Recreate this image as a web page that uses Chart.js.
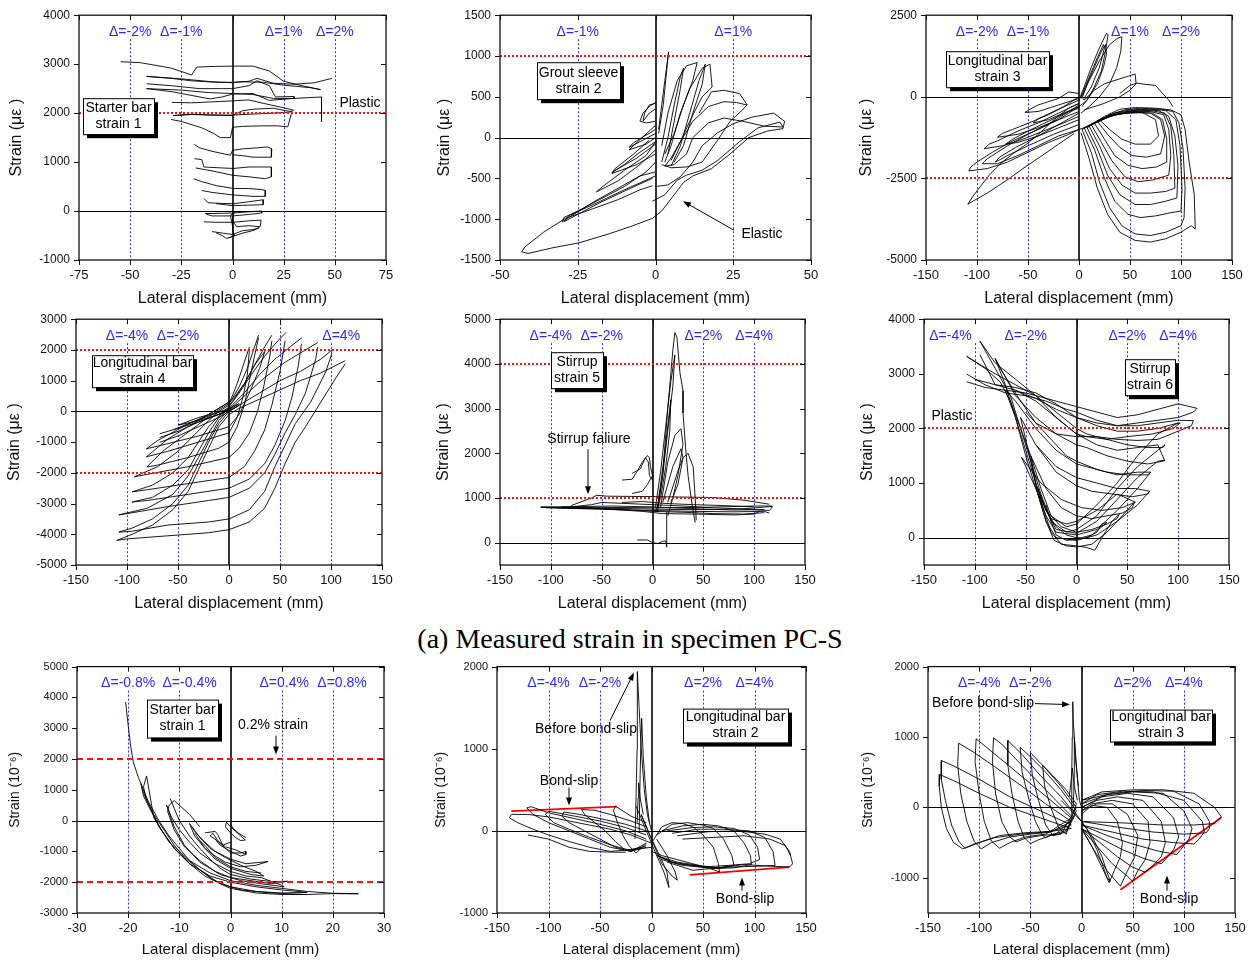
<!DOCTYPE html>
<html>
<head>
<meta charset="utf-8">
<title>Measured strain in specimen PC-S</title>
<script src="https://cdn.jsdelivr.net/npm/chart.js@4.4.1/dist/chart.umd.min.js"></script>
<style>
  html, body { margin: 0; padding: 0; background: #fff; }
  #figure { position: relative; width: 1252px; height: 963px; overflow: hidden; }
  .panel { position: absolute; }
  #caption {
    position: absolute; left: 0; width: 1260px; top: 625px; text-align: center;
    font-family: 'Liberation Serif', 'Times New Roman', serif; font-size: 28px; line-height: 28px; color: #000;
  }
</style>
</head>
<body>
<div id="figure">
  <div id="caption">(a) Measured strain in specimen PC-S</div>
</div>
<script>
// ---------- panel 1: starter bar strain 1 ----------
const starter1XTicks = [-75, -50, -25, 0, 25, 50, 75];
const starter1YTicks = [-1000, 0, 1000, 2000, 3000, 4000];
const starter1Drift = [-50, -25, 25, 50];
const starter1DriftLabels = ['Δ=-2%', 'Δ=-1%', 'Δ=1%', 'Δ=2%'];
const starter1Loops = [
  [[-54.6,3050],[-45,3030],[-30,2920],[-20,2780],[-17.5,2940],[-8,2955],[0,2960],[10,2960],[18,2860],[25,2650],[34,2560],[43,2480],[38,2520],[25,2570],[15,2630],[5,2640],[0,2620],[-10,2640],[-25,2700],[-42,2750]],
  [[-42,2750],[-30,2710],[-20,2660],[-8,2630],[0,2630],[8,2650],[12,2710],[20,2610],[30,2590],[40,2620],[48.6,2710]],
  [[-42,2600],[-30,2560],[-16,2500],[-5,2500],[0,2500],[8,2560],[12,2660],[18,2560],[21,2330],[30,2340],[30,2300],[20,2300],[10,2380],[0,2400],[-12,2420],[-25,2470],[-42,2500]],
  [[-42,2500],[-30,2440],[-11,2290],[-5,2330],[0,2390],[10,2400],[18,2260],[30,2300],[43.5,2330],[43.5,1820]],
  [[-29.7,2220],[-20,2210],[-10,2230],[0,2250],[8,2270],[15,2200],[25,2110],[29.8,2060],[28,2020],[20,2000],[10,1980],[0,1960],[-10,1960],[-20,1980],[-29,1950]],
  [[-30,1870],[-25,1830],[-15,1700],[-9,1580],[-6,1500],[-1,1500],[0,1710],[5,1730],[15,1740],[22,1740],[27,1720],[29,2030],[26,2050],[20,2100],[10,2080],[5,2050],[0,1950],[-8,1960],[-20,1970],[-29,1950]],
  [[-18.7,1360],[-16,1290],[-10,1220],[-1,1140],[0,1240],[5,1270],[12,1290],[17,1310],[19.2,1270],[19,1100],[10,1100],[5,1130],[0,1150]],
  [[-18.6,1070],[-15,1050],[-14,900],[-5,880],[0.5,870],[8,900],[15,900],[19,900],[19,700],[16,660],[8,700],[0,730],[-10,820],[-18,880]],
  [[-19,660],[-15,600],[-8,520],[0.5,460],[8,460],[14,440],[16,420],[16,300],[10,300],[0,330],[-10,380],[-15,420]],
  [[-13.9,255],[-12,170],[-5,155],[0.5,150],[8,190],[15,230],[15,130],[8,120],[0,110],[-8,150]],
  [[-13.4,-50],[-10,-50],[0,-40],[10,-10],[14.3,0],[14.3,-40],[8,-70],[0,-100],[-10,-100],[-13,-60]],
  [[-14,-220],[-8,-230],[0,-230],[8,-200],[14,-185],[13.5,-320],[8,-300],[2,-320],[0,-200]],
  [[-10,-420],[-5,-450],[0,-480],[5,-400],[10,-380],[13,-340],[10,-400],[5,-450],[0,-520],[-3,-560],[-5,-500],[-8,-450]],
  [[0,-300],[-1,-100],[1,0],[0,-150],[0,-400],[1,-500],[-2,-550]]
];

// ---------- panel 2: grout sleeve strain 2 ----------
const grout2XTicks = [-50, -25, 0, 25, 50];
const grout2YTicks = [-1500, -1000, -500, 0, 500, 1000, 1500];
const grout2Drift = [-25, 25];
const grout2DriftLabels = ['Δ=-1%', 'Δ=1%'];
const grout2Loops = [
  [[-1,-590],[-5,-640],[-12,-760],[-20,-870],[-29,-990],[-36,-1160],[-42,-1340],[-43,-1400],[-41,-1420],[-33,-1350],[-24.6,-1290],[-15,-1180],[-8,-1090],[-1,-990],[2,-900],[6,-700],[9,-550],[12,-470],[18,-380],[24,-200],[30,0],[36,80],[41,110],[41.5,200],[38,300],[31,250],[25,170],[20,60],[15,-100],[12,-300],[8,-480],[4,-580],[0,-600]],
  [[-1,-780],[3,-700],[7,-520],[10,-460],[15,-400],[20,-280],[27,-50],[33,120],[40,190],[41,130],[35,140],[28,200],[22,240],[17,180],[12,0],[10,-200],[6,-330],[3,-350]],
  [[3,-350],[5,-250],[8,-50],[12,200],[17,380],[22,440],[26,430],[29.4,400],[28,340],[24,200],[20,-30],[15,-300],[10,-360],[5,-370],[2,-330]],
  [[14,300],[18,560],[22,580],[27,540],[29.5,400]],
  [[3,-300],[5,-100],[8,300],[11,600],[15,850],[17.5,900],[18.2,620],[15,500],[11,200],[8,-50],[5,-280]],
  [[2,-100],[4,300],[7,700],[10,880],[13.4,920],[12,700],[9,400],[6,50],[3,-200]],
  [[1,100],[3,700],[4.2,1050],[3.8,900],[2.5,400],[1,50]],
  [[0,-420],[-5,-470],[-12,-620],[-20,-790],[-30,-1030],[-29.5,-980],[-25,-900],[-18,-760],[-10,-600],[-3,-420],[0,-300]],
  [[-1,-500],[-8,-620],[-18,-800],[-29.4,-1030],[-28,-960],[-20,-820],[-10,-640],[0,-470]],
  [[0,-150],[-5,-330],[-12,-530],[-19,-665],[-17,-600],[-10,-400],[-3,-220],[0,-50]],
  [[0,-200],[-6,-330],[-14,-440],[-13,-400],[-6,-250],[0,-80]],
  [[0,-50],[-5,-180],[-10,-330],[-14,-430],[-13,-380],[-7,-200],[-2,-30]],
  [[0,0],[-3,-80],[-8.5,-150],[-6,-60],[-2,80],[0,150]],
  [[0,50],[-4,-30],[-8.5,-120],[-7,-60],[-3,30],[0,100]],
  [[0,200],[-3,180],[-5,200],[-4,300],[-2,380],[0,430]],
  [[0,350],[-2,300],[-4,200],[-3.5,300],[-2,400],[0,420]],
  [[2,-300],[4,0],[6,400],[8,750],[9,850],[8,600],[6,200],[4,-200]],
  [[5,-350],[8,-100],[11,300],[14,700],[16,900],[15,650],[12,300],[9,-100],[6,-300]]
];

// ---------- panel 3: longitudinal bar strain 3 ----------
const long3XTicks = [-150, -100, -50, 0, 50, 100, 150];
const long3YTicks = [-5000, -2500, 0, 2500];
const long3Drift = [-100, -50, 50, 100];
const long3DriftLabels = ['Δ=-2%', 'Δ=-1%', 'Δ=1%', 'Δ=2%'];
const long3Loops = [
  [[-5,-1130],[-20,-1450],[-38,-1840],[-55,-2200],[-71,-2560],[-90,-2950],[-109,-3290],[-104,-3050],[-97,-2760],[-88,-2400],[-77,-2050],[-65,-1750],[-51,-1440],[-38,-1100],[-22,-630],[-10,-350],[0,-200]],
  [[0,-1000],[-10,-1150],[-30,-1400],[-50,-1700],[-70,-2000],[-90,-2200],[-108,-2270],[-106,-2150],[-100,-2000],[-85,-1700],[-65,-1350],[-40,-1000],[-20,-700],[0,-300]],
  [[0,-1000],[-20,-1200],[-40,-1500],[-60,-1800],[-80,-2050],[-95,-2050],[-90,-1900],[-85,-1800],[-70,-1500],[-50,-1150],[-25,-750],[0,-250]],
  [[0,-600],[-15,-800],[-35,-1050],[-55,-1300],[-75,-1500],[-93,-1590],[-88,-1450],[-80,-1350],[-60,-1050],[-40,-800],[-20,-500],[0,-200]],
  [[0,-450],[-20,-700],[-40,-950],[-60,-1150],[-80,-1240],[-75,-1120],[-65,-1000],[-45,-750],[-25,-450],[0,-100]],
  [[0,-50],[-20,-250],[-40,-450],[-53,-480],[-48,-380],[-40,-250],[-20,-50],[-10,150],[0,100]],
  [[0,-300],[-15,-500],[-30,-700],[-45,-800],[-40,-680],[-30,-550],[-15,-300],[0,0]],
  [[0,-700],[-20,-950],[-40,-1200],[-60,-1400],[-72,-1450],[-65,-1300],[-50,-1050],[-30,-750],[-10,-450],[0,-350]],
  [[0,-850],[-25,-1150],[-50,-1500],[-70,-1800],[-82,-2000],[-78,-1850],[-62,-1550],[-40,-1200],[-20,-850],[0,-500]],
  [[2,-1100],[10,-1900],[18,-2800],[28,-3600],[40,-4150],[55,-4400],[70,-4450],[85,-4350],[100,-4150],[110,-3950],[114,-4050],[113,-3000],[108,-2000],[104,-1000],[100,-550],[90,-400],[75,-350],[55,-330],[40,-380],[25,-600],[10,-900],[0,-1000]],
  [[3,-1000],[12,-1700],[20,-2600],[30,-3400],[42,-3950],[55,-4200],[70,-4250],[85,-4150],[100,-3950],[103,-3700],[104,-2800],[102,-1600],[98,-800],[92,-450],[80,-380],[60,-350],[45,-400],[30,-550],[15,-800],[3,-1000]],
  [[5,-950],[15,-1600],[25,-2500],[35,-3200],[48,-3600],[60,-3700],[75,-3650],[90,-3550],[100,-3500],[101,-2800],[99,-1500],[95,-700],[85,-420],[70,-380],[50,-400],[35,-500],[20,-700],[5,-950]],
  [[8,-950],[18,-1600],[28,-2400],[40,-3000],[55,-3300],[70,-3300],[85,-3200],[96,-3100],[97,-2100],[94,-1200],[88,-600],[78,-420],[60,-400],[40,-480],[20,-700],[8,-950]],
  [[10,-900],[20,-1500],[30,-2200],[42,-2700],[55,-2950],[70,-2950],[85,-2900],[94,-2800],[93,-1800],[90,-900],[84,-500],[70,-420],[50,-430],[30,-600],[10,-900]],
  [[12,-850],[22,-1400],[32,-1950],[45,-2450],[58,-2600],[72,-2550],[88,-2400],[90,-1800],[88,-1000],[83,-550],[70,-450],[50,-450],[30,-600],[12,-850]],
  [[15,-800],[25,-1300],[35,-1800],[48,-2100],[62,-2200],[76,-2150],[86,-2000],[86,-1300],[82,-700],[72,-500],[55,-470],[35,-550],[15,-800]],
  [[18,-750],[28,-1150],[40,-1550],[52,-1800],[66,-1850],[80,-1750],[84,-1200],[80,-700],[70,-500],[50,-480],[30,-580],[18,-750]],
  [[20,-700],[30,-1000],[42,-1300],[55,-1450],[70,-1450],[78,-1200],[75,-700],[62,-480],[40,-520],[20,-700]],
  [[0,-100],[5,300],[12,900],[20,1500],[27,1950],[28.5,1900],[26,1400],[22,800],[15,300],[8,-100],[0,-300]],
  [[2,-50],[10,500],[20,1100],[30,1600],[38,1800],[42,1840],[41,1400],[37,900],[30,400],[20,0],[10,-300],[2,-500]],
  [[3,-50],[8,400],[15,900],[22,1400],[26,1600],[27,1300],[24,900],[18,400],[10,0],[3,-300]],
  [[5,-100],[15,200],[25,400],[40,550],[50,650],[55,700],[56,400],[50,200],[40,0],[25,-200],[10,-350],[5,-400]],
  [[40,100],[50,350],[57,420],[65,380],[75,350],[82,100],[88,-100],[92,-300]],
  [[2,0],[10,600],[18,1200],[24,1600],[25,1500],[20,900],[12,300],[4,-100]]
];

// ---------- panel 4: longitudinal bar strain 4 ----------
const long4XTicks = [-150, -100, -50, 0, 50, 100, 150];
const long4YTicks = [-5000, -4000, -3000, -2000, -1000, 0, 1000, 2000, 3000];
const long4Drift = [-100, -50, 50, 100];
const long4DriftLabels = ['Δ=-4%', 'Δ=-2%', '', 'Δ=4%'];
const long4Loops = [
  [[114,1650],[105,1500],[90,1250],[70,1000],[50,700],[30,400],[10,100],[0,-100],[-10,-500],[-20,-1200],[-30,-1900],[-40,-2600],[-55,-3200],[-75,-3700],[-95,-4000],[-110,-4200],[-100,-4150],[-60,-4050],[-20,-3950],[0,-3850],[20,-3600],[35,-3150],[45,-2500],[55,-1700],[65,-1000],[75,-500],[90,300],[105,1100],[114,1550]],
  [[101,2000],[90,1700],[70,1300],[50,1000],[30,600],[10,200],[0,0],[-10,-400],[-20,-1000],[-30,-1700],[-40,-2400],[-55,-3000],[-75,-3500],[-95,-3800],[-108,-3930],[-95,-3900],[-60,-3700],[-20,-3600],[0,-3500],[20,-3200],[35,-2600],[45,-1800],[55,-1100],[65,-400],[80,300],[95,1300],[101,1900]],
  [[87,2240],[75,2000],[55,1600],[35,1100],[15,500],[0,50],[-10,-300],[-20,-900],[-30,-1500],[-40,-2100],[-55,-2700],[-80,-3150],[-108,-3370],[-95,-3300],[-60,-3100],[-20,-2900],[0,-2800],[20,-2500],[35,-2000],[45,-1400],[55,-700],[65,-100],[75,600],[85,1700],[87,2100]],
  [[71.5,2400],[60,2100],[45,1700],[30,1200],[15,600],[0,100],[-10,-200],[-20,-700],[-30,-1300],[-40,-1900],[-55,-2400],[-75,-2800],[-95,-2950],[-80,-2900],[-40,-2700],[0,-2500],[20,-2200],[35,-1700],[45,-1100],[55,-300],[62,500],[68,1500],[71,2200]],
  [[56,2570],[48,2300],[35,1800],[22,1200],[10,600],[0,150],[-10,-150],[-20,-500],[-30,-1000],[-40,-1500],[-55,-2000],[-75,-2400],[-95,-2620],[-80,-2550],[-40,-2350],[0,-2150],[15,-1800],[25,-1300],[35,-600],[42,200],[50,1300],[55,2300]],
  [[42,2480],[35,2100],[25,1500],[15,900],[5,400],[0,200],[-10,0],[-20,-300],[-35,-800],[-50,-1300],[-70,-1800],[-93,-2130],[-80,-2050],[-40,-1800],[0,-1500],[10,-1200],[20,-700],[28,0],[34,800],[40,1800],[42,2300]],
  [[29,2480],[24,2000],[18,1400],[10,800],[3,400],[0,250],[-10,50],[-25,-300],[-45,-800],[-65,-1300],[-80.6,-1810],[-70,-1750],[-40,-1500],[-10,-1200],[0,-1000],[8,-500],[15,200],[20,1000],[25,1800],[29,2400]],
  [[20,2100],[15,1600],[8,900],[2,400],[0,300],[-15,0],[-35,-400],[-60,-900],[-81,-1480],[-60,-1300],[-30,-1000],[0,-700],[8,-200],[14,500],[18,1200],[20,2000]],
  [[35,1950],[25,1500],[15,900],[5,450],[0,300],[-20,-100],[-45,-500],[-70,-950],[-81,-1220],[-60,-1050],[-30,-800],[0,-500],[10,-100],[20,600],[30,1400],[35,1950]],
  [[-68,-1005],[-50,-800],[-30,-500],[-10,-200],[0,0],[10,200],[5,100],[-10,-100],[-30,-350],[-50,-650],[-68,-850]],
  [[-68,-730],[-50,-550],[-30,-350],[-10,-100],[0,50],[10,250],[0,100],[-20,-150],[-40,-400],[-54,-590]],
  [[-50,-450],[-30,-300],[-10,-100],[0,50],[-10,-30],[-30,-200],[-50,-450]]
];

// ---------- panel 5: stirrup strain 5 ----------
const stirrup5XTicks = [-150, -100, -50, 0, 50, 100, 150];
const stirrup5YTicks = [0, 1000, 2000, 3000, 4000, 5000];
const stirrup5Drift = [-100, -50, 50, 100];
const stirrup5DriftLabels = ['Δ=-4%', 'Δ=-2%', 'Δ=2%', 'Δ=4%'];
const stirrup5Loops = [
  [[-110,790],[-80,780],[-50,770],[-20,760],[0,750],[30,740],[60,740],[90,760],[118,810]],
  [[-110,800],[-80,800],[-60,850],[-50,900],[-30,880],[0,850],[30,820],[60,780],[90,750],[115,720],[118,800]],
  [[-105,780],[-70,760],[-40,740],[0,720],[40,700],[80,690],[110,700],[115,660]],
  [[-80,830],[-60,1000],[-55,1060],[-45,1040],[0,1030],[30,1020],[60,1010],[90,950],[115,860]],
  [[-100,790],[-60,770],[-20,730],[0,700],[30,680],[60,650],[90,640],[110,670]],
  [[-95,780],[-50,760],[-10,700],[10,650],[40,640],[80,620],[100,640],[105,700]],
  [[-110,790],[-50,790],[0,780],[50,790],[100,820],[118,820]],
  [[-90,800],[-40,820],[0,800],[40,760],[80,730],[110,740]],
  [[-30,900],[-10,920],[10,880],[40,850],[70,830],[100,800]],
  [[5,700],[10,1500],[15,3000],[20,4300],[22,4700],[24,4600],[27,3800],[30,3400],[30,2900],[33,2000],[35,1500],[38,1000],[40,700],[42,450]],
  [[3,800],[8,1600],[13,2600],[18,3600],[22,4200],[20,3500],[15,2500],[10,1500],[5,800]],
  [[5,800],[12,2000],[17,3000],[18,3200],[17,2500],[13,1700],[8,1000],[3,700]],
  [[8,800],[15,1800],[22,2400],[28,2550],[30,2200],[25,1500],[20,1000],[15,600]],
  [[10,900],[20,1700],[28,2100],[30,1900],[25,1300],[18,900]],
  [[15,900],[25,1600],[30,1900],[35,2000],[40,1700],[42,1000],[43,500]],
  [[-30,1400],[-20,1420],[-15,1600],[-10,1800],[-5,1950],[-3,1900],[-2,1700],[0,1500],[-5,1300],[-10,1150],[-20,1100]],
  [[-20,1550],[-12,1650],[-7,1900],[-4,1800],[-3,1500],[0,1400]],
  [[-15,60],[-5,60],[0,0],[5,-20],[10,30],[13,40],[14,-100],[14,700]]
];

// ---------- panel 6: stirrup strain 6 ----------
const stirrup6XTicks = [-150, -100, -50, 0, 50, 100, 150];
const stirrup6YTicks = [0, 1000, 2000, 3000, 4000];
const stirrup6Drift = [-100, -50, 50, 100];
const stirrup6DriftLabels = ['Δ=-4%', 'Δ=-2%', 'Δ=2%', 'Δ=4%'];
const stirrup6Loops = [
  [[-30,600],[-25,300],[-20,50],[-10,-50],[0,-30],[10,0],[20,100],[25,250],[30,280],[25,200],[15,50],[5,0],[0,0],[-10,50],[-20,200],[-30,500]],
  [[-38,900],[-32,500],[-25,100],[-15,-120],[0,-150],[10,-180],[18,-230],[25,0],[35,300],[42,430],[40,350],[30,250],[15,150],[0,100],[-15,200],[-30,500],[-38,900]],
  [[-45,1500],[-38,800],[-30,300],[-22,-50],[-10,-150],[0,-170],[15,-120],[30,100],[45,400],[57,650],[55,550],[45,450],[30,400],[15,350],[0,400],[-15,550],[-30,900],[-45,1500]],
  [[-55,2200],[-45,1400],[-38,800],[-30,300],[-20,0],[0,-50],[20,50],[40,300],[60,600],[72,850],[70,800],[55,750],[35,800],[15,850],[0,950],[-20,1200],[-40,1700],[-55,2200]],
  [[-70,2700],[-60,2200],[-50,1500],[-40,900],[-30,400],[-20,100],[0,50],[20,150],[40,500],[60,900],[73,1200],[70,1150],[50,1150],[30,1200],[10,1300],[0,1350],[-20,1600],[-40,2000],[-60,2500],[-70,2700]],
  [[-80,3280],[-70,2800],[-60,2200],[-50,1600],[-40,1000],[-30,500],[-20,150],[0,80],[20,300],[40,700],[60,1100],[80,1400],[87,1420],[85,1400],[70,1350],[50,1400],[30,1500],[10,1650],[0,1700],[-20,1900],[-40,2200],[-60,2600],[-80,3280]],
  [[-95,3600],[-80,3100],[-65,2600],[-55,2000],[-45,1400],[-35,800],[-25,300],[-10,100],[0,150],[20,400],[40,900],[60,1300],[80,1600],[87,1700],[85,1650],[70,1650],[50,1700],[30,1800],[10,1850],[0,1900],[-20,2200],[-40,2600],[-60,2900],[-80,3200],[-95,3600]],
  [[-108,3318],[-90,3100],[-75,2850],[-65,2500],[-55,2000],[-45,1500],[-35,900],[-25,400],[-10,200],[0,250],[20,600],[40,1000],[60,1500],[80,1900],[100,2100],[102,2100],[95,2000],[75,1900],[50,1850],[30,1800],[10,1900],[0,2000],[-20,2300],[-40,2600],[-60,2800],[-80,3000],[-108,3318]],
  [[-108,2995],[-90,2800],[-70,2650],[-50,2600],[-30,2500],[-10,2350],[0,2300],[20,2150],[40,2050],[60,2050],[80,2100],[100,2150],[115,2143],[113,2050],[100,1950],[80,1800],[60,1780],[40,1800],[20,1850],[0,1850],[-20,1900],[-40,2100],[-55,2500],[-65,2800],[-75,3100],[-80,3280]],
  [[-108,2855],[-90,2750],[-70,2700],[-50,2650],[-30,2550],[-10,2450],[0,2400],[20,2300],[40,2200],[60,2250],[80,2350],[100,2450],[118.6,2368],[115,2300],[100,2200],[80,2150],[60,2100],[40,2050],[20,2100],[0,2200],[-20,2450],[-40,2650],[-60,2750],[-80,2800],[-95,3350]],
  [[-54,1470],[-45,1100],[-35,700],[-25,350],[-10,250],[0,300],[20,500],[40,800],[58,650],[45,550],[25,500],[5,550],[-15,700],[-35,1000],[-54,1470]],
  [[-100,2900],[-80,2800],[-60,2700],[-40,2550],[-20,2350],[0,2200],[20,2050],[40,1950],[60,1950],[80,2000],[100,2100]],
  [[-60,2700],[-40,2500],[-20,2200],[0,1900],[20,1700],[40,1600],[60,1650],[80,1700],[87,1400]],
  [[-50,2300],[-30,1900],[-10,1500],[0,1400],[20,1250],[40,1150],[60,1200],[73,1200]],
  [[-40,1700],[-20,1300],[0,1100],[20,1000],[40,900],[58,900],[72,850]]
];

// ---------- panel 7: starter bar strain 1 (second specimen) ----------
const starterB1XTicks = [-30, -20, -10, 0, 10, 20, 30];
const starterB1YTicks = [-3000, -2000, -1000, 0, 1000, 2000, 3000, 4000, 5000];
const starterB1Drift = [-20, -10, 10, 20];
const starterB1DriftLabels = ['Δ=-0.8%', 'Δ=-0.4%', 'Δ=0.4%', 'Δ=0.8%'];
const starterB1Loops = [
  [[-20.5,3850],[-20,3100],[-19.5,2400],[-19,1900],[-18,1400],[-17,1000],[-16,600],[-14,0],[-12,-500],[-10,-900],[-8,-1300],[-6,-1600],[-4,-1850],[-2,-2050],[0,-2200],[5,-2350],[10,-2400],[15,-2400],[20,-2370],[25,-2380]],
  [[25,-2370],[20,-2360],[15,-2300],[10,-2200],[5,-2100],[0,-1950],[-4,-1700],[-8,-1300],[-12,-700],[-15,100],[-16.4,1450],[-17,1100],[-16.5,700],[-15,200],[-13,-300],[-11,-800],[-9,-1200],[-6,-1600],[-3,-1950],[0,-2150],[5,-2300],[10,-2350],[15,-2330]],
  [[15,-2330],[10,-2250],[5,-2150],[0,-2000],[-4,-1800],[-8,-1400],[-11,-900],[-14,-200],[-17,900],[-17.5,1200],[-17,800],[-15.5,300],[-13.5,-300],[-11,-900],[-8,-1400],[-5,-1800],[-2,-2050],[2,-2250],[8,-2350],[15,-2400]],
  [[-11.8,720],[-11,400],[-10,0],[-8,-500],[-6,-900],[-4,-1250],[-2,-1550],[0,-1750],[4,-1900],[8,-1980],[11.2,-1970],[8,-2050],[4,-1950],[0,-1850],[-3,-1650],[-6,-1300],[-9,-850],[-11,-300],[-12.3,300],[-12,500],[-11,650],[-8,200],[-6,-200]],
  [[-12.5,500],[-11.5,100],[-10,-300],[-8,-700],[-6,-1050],[-3,-1400],[0,-1650],[3,-1800],[6,-1850],[10,-2100],[10.5,-2150],[6,-2050],[2,-1950],[-2,-1750],[-6,-1350],[-9,-800],[-11,-200],[-12.5,500]],
  [[-8,-86],[-7,-350],[-5,-700],[-3,-1000],[0,-1250],[3,-1400],[7.3,-1330],[5,-1450],[2,-1500],[-1,-1350],[-3,-1150],[-5,-900],[-7,-500],[-8,-100]],
  [[-7.5,-200],[-6,-550],[-4,-900],[-1,-1200],[2,-1450],[5,-1650],[6.5,-1800],[4,-1750],[0,-1550],[-3,-1250],[-5,-900],[-7,-400]],
  [[-3.4,-410],[-2.5,-650],[-1,-850],[1,-950],[3,-1100],[2,-1150],[0,-1000],[-2,-800],[-3,-600],[-4,-500],[-3.4,-410]],
  [[-0.8,-50],[0,-200],[1,-350],[2,-500],[2.9,-630],[2,-650],[1,-550],[0,-400],[-1,-200],[-0.8,-50]],
  [[0,-100],[0.5,-250],[1.5,-400],[2.5,-500],[3,-550]],
  [[-3,-600],[-1,-900],[0,-1050],[2,-1050],[3,-1000],[3,-1100]],
  [[-5,-400],[-3,-350],[-2.5,-450],[-1.5,-800],[0,-700]],
  [[6,-1700],[3,-1650],[0,-1500],[-3,-1200],[-5,-800],[-6,-650]]
];

// ---------- panel 8: longitudinal bar strain 2 (second specimen) ----------
const long2XTicks = [-150, -100, -50, 0, 50, 100, 150];
const long2YTicks = [-1000, 0, 1000, 2000];
const long2Drift = [-100, -50, 50, 100];
const long2DriftLabels = ['Δ=-4%', 'Δ=-2%', 'Δ=2%', 'Δ=4%'];
const long2BondSlip = [
  [[-136,240],[-34,295]],
  [[37,-535],[134,-442]]
];
const long2Loops = [
  [[0,-150],[-20,-50],[-40,20],[-60,70],[-80,120],[-100,170],[-120,200],[-136,200],[-138,160],[-130,100],[-115,20],[-100,-50],[-80,-130],[-60,-200],[-40,-250],[-20,-230],[0,-200]],
  [[-5,-100],[-25,0],[-50,80],[-75,150],[-100,220],[-117,295],[-121,280],[-115,200],[-100,100],[-80,0],[-60,-100],[-40,-200],[-20,-250],[-5,-200]],
  [[-5,-50],[-25,40],[-50,120],[-75,180],[-100,240],[-103,200],[-95,100],[-80,20],[-60,-80],[-40,-170],[-20,-240],[-5,-180]],
  [[-5,0],[-25,80],[-50,150],[-70,200],[-85,230],[-87,180],[-80,100],[-65,0],[-50,-100],[-35,-200],[-20,-250],[-5,-150]],
  [[-5,50],[-20,120],[-40,200],[-55,250],[-68,260],[-65,200],[-55,100],[-45,0],[-35,-130],[-25,-240],[-10,-200]],
  [[-5,100],[-20,180],[-35,300],[-37,250],[-33,100],[-28,-50],[-22,-180],[-15,-270],[-5,-150]],
  [[-120,-50],[-100,-100],[-80,-200],[-60,-250],[-35,-260],[-25,-260]],
  [[-16,-100],[-15,400],[-14,1000],[-14,1500],[-13.5,1940],[-12,1500],[-10,1000],[-7,500],[-4,200],[0,0]],
  [[-12,0],[-11,700],[-10,1200],[-9.6,1370],[-8,900],[-5,400],[-2,100]],
  [[-14,100],[-13,400],[-12.5,586],[-11,400],[-8,200]],
  [[-15,300],[-5,0],[5,-300],[12,-500],[17,-690],[15,-500],[8,-300],[0,-100],[-10,200]],
  [[-10,200],[0,-100],[10,-400],[20,-550],[25,-600],[23,-500],[15,-300],[5,-100]],
  [[0,-150],[10,50],[20,100],[30,90],[40,50],[50,-50],[60,-200],[65,-400],[66,-500],[55,-450],[40,-400],[25,-350],[10,-300],[0,-250]],
  [[5,-50],[20,80],[35,100],[50,70],[60,30],[70,-100],[78,-300],[80,-420],[65,-450],[45,-420],[25,-380],[5,-300]],
  [[10,0],[30,60],[50,80],[65,60],[80,0],[90,-150],[96,-300],[97,-410],[80,-450],[60,-460],[40,-420],[20,-380],[5,-300]],
  [[15,0],[40,40],[60,50],[80,30],[95,-50],[103,-200],[105,-350],[95,-400],[75,-420],[50,-440],[25,-400],[10,-330]],
  [[20,-30],[45,20],[70,20],[95,0],[110,-80],[118,-250],[120,-420],[105,-430],[80,-440],[55,-450],[30,-420],[10,-350]],
  [[25,-60],[55,-10],[85,0],[110,-40],[125,-100],[134,-250],[137,-400],[134,-440],[115,-430],[90,-410],[65,-450],[40,-480],[15,-380]],
  [[30,-100],[60,-80],[90,-60],[115,-100],[130,-180],[135,-300]]
];

// ---------- panel 9: longitudinal bar strain 3 (second specimen) ----------
const long3bXTicks = [-150, -100, -50, 0, 50, 100, 150];
const long3bYTicks = [-1000, 0, 1000, 2000];
const long3bDrift = [-100, -50, 50, 100];
const long3bDriftLabels = ['Δ=-4%', 'Δ=-2%', 'Δ=2%', 'Δ=4%'];
const long3bBondSlip = [
  [[38,-1170],[136,-150]]
];
const long3bLoops = [
  [[-10,-300],[-40,-150],[-70,0],[-100,200],[-125,380],[-138.6,467],[-139,300],[-137,0],[-132,-300],[-125,-500],[-116,-590],[-105,-520],[-85,-430],[-60,-380],[-35,-350],[-10,-300]],
  [[-10,-250],[-40,-50],[-70,150],[-100,400],[-125,590],[-137,666],[-137,400],[-133,100],[-127,-250],[-120,-480],[-114,-580],[-100,-500],[-80,-400],[-55,-360],[-30,-340],[-10,-250]],
  [[-10,-200],[-35,50],[-60,320],[-85,580],[-105,780],[-120,912],[-121,600],[-118,200],[-112,-200],[-105,-480],[-98,-590],[-88,-500],[-70,-420],[-50,-380],[-30,-350],[-10,-200]],
  [[-10,-150],[-30,100],[-55,400],[-80,700],[-95,880],[-103,974],[-104,650],[-100,200],[-95,-200],[-88,-480],[-80,-580],[-70,-500],[-55,-420],[-35,-380],[-10,-150]],
  [[-8,-150],[-25,100],[-45,400],[-65,700],[-78,900],[-86,988],[-87,650],[-84,200],[-78,-200],[-70,-420],[-64,-490],[-55,-440],[-40,-400],[-25,-380],[-8,-150]],
  [[-6,-100],[-20,150],[-40,450],[-58,750],[-72,950],[-72,600],[-68,200],[-62,-200],[-56,-430],[-50,-515],[-42,-460],[-30,-400],[-15,-350],[-6,-100]],
  [[-5,-50],[-20,250],[-35,500],[-50,720],[-60,855],[-58,500],[-52,150],[-45,-200],[-38,-400],[-35,-430],[-28,-380],[-15,-330],[-5,-50]],
  [[-5,0],[-20,300],[-35,550],[-50,780],[-48,450],[-42,100],[-35,-250],[-28,-400],[-20,-380],[-5,0]],
  [[-5,50],[-15,250],[-28,450],[-38,600],[-36,300],[-30,0],[-22,-300],[-15,-380],[-5,50]],
  [[-10,-100],[-9.5,500],[-9,1000],[-8.5,1500],[-8,1200],[-6,800],[-4,400],[-2,100],[0,0]],
  [[-8,0],[-7,500],[-7,1000],[-6,700],[-3,300]],
  [[-12,150],[-10,400],[-9,560],[-7,300],[-4,100]],
  [[-20,100],[0,-200],[10,-400],[20,-700],[28,-1050],[25,-1000],[15,-600],[5,-300],[-10,0]],
  [[0,-300],[10,-550],[20,-850],[27,-1070],[32,-900],[38,-700],[40,-500],[35,-200],[25,0],[10,30],[0,-100]],
  [[0,-300],[12,-600],[25,-900],[38,-1120],[45,-900],[52,-700],[55,-400],[45,-100],[30,50],[15,50],[0,-50]],
  [[0,-300],[15,-550],[30,-800],[45,-980],[50,-1050],[55,-900],[62,-750],[67,-500],[65,-200],[50,50],[30,100],[10,50],[0,-50]],
  [[0,-300],[18,-500],[35,-700],[50,-850],[62,-920],[68,-850],[78,-700],[82,-500],[78,-200],[60,100],[35,150],[15,100],[0,0]],
  [[0,-300],[20,-450],[40,-600],[60,-720],[78,-800],[82,-740],[90,-600],[95,-420],[90,-150],[70,150],[45,200],[20,150],[0,0]],
  [[0,-250],[25,-400],[50,-520],[75,-620],[93,-670],[97,-600],[105,-450],[108,-300],[100,-50],[80,200],[50,220],[25,180],[0,50]],
  [[0,-250],[30,-350],[60,-450],[90,-500],[110,-520],[115,-450],[120,-350],[118,-200],[100,100],[70,220],[40,230],[15,180],[0,50]],
  [[0,-200],[35,-280],[70,-350],[100,-380],[122,-360],[125,-300],[125,-200],[115,50],[90,230],[60,240],[30,200],[0,100]],
  [[0,-200],[40,-220],[80,-250],[110,-250],[130,-230],[135,-150],[137,-140],[130,0],[110,200],[80,250],[50,250],[20,220],[0,100]]
];

// ---------- layout of the nine panels ----------
const FONT = "'Liberation Sans', Arial, Helvetica, sans-serif";
Chart.defaults.font.family = FONT;
Chart.defaults.color = '#111';

const panels = [
  { plot: [79, 14, 386, 260], yw: 72, x: [-75, 75], y: [-1000, 4000], xTicks: starter1XTicks, yTicks: starter1YTicks,
    loops: starter1Loops, drift: starter1Drift, driftLabels: starter1DriftLabels, limits: [2000],
    box: { x: 4, y: 83, w: 71, h: 36, lines: ['Starter bar', 'strain 1'] },
    notes: [{ text: 'Plastic', x: 281, y: 88 }], arrows: [] },
  { plot: [500, 14, 811, 260], yw: 65, x: [-50, 50], y: [-1500, 1500], xTicks: grout2XTicks, yTicks: grout2YTicks,
    loops: grout2Loops, drift: grout2Drift, driftLabels: grout2DriftLabels, limits: [1000],
    box: { x: 37, y: 47, w: 83, h: 37, lines: ['Grout sleeve', 'strain 2'] },
    notes: [{ text: 'Elastic', x: 262, y: 219 }], arrows: [[234, 215, 183, 186]] },
  { plot: [926, 14, 1232, 260], yw: 69, x: [-150, 150], y: [-5000, 2500], xTicks: long3XTicks, yTicks: long3YTicks,
    loops: long3Loops, drift: long3Drift, driftLabels: long3DriftLabels, limits: [-2500],
    box: { x: 20, y: 36, w: 103, h: 36, lines: ['Longitudinal bar', 'strain 3'] },
    notes: [], arrows: [] },
  { plot: [76, 318, 382, 565], yw: 71, x: [-150, 150], y: [-5000, 3000], xTicks: long4XTicks, yTicks: long4YTicks,
    loops: long4Loops, drift: long4Drift, driftLabels: long4DriftLabels, driftLabelX: [-100, -50, 50, 110], limits: [2000, -2000],
    box: { x: 16, y: 36, w: 101, h: 32, lines: ['Longitudinal bar', 'strain 4'] },
    notes: [], arrows: [] },
  { plot: [500, 318, 805, 565], yw: 66, x: [-150, 150], y: [-500, 5000], xTicks: stirrup5XTicks, yTicks: stirrup5YTicks,
    loops: stirrup5Loops, drift: stirrup5Drift, driftLabels: stirrup5DriftLabels, limits: [4000, 1000],
    box: { x: 51, y: 33, w: 52, h: 36, lines: ['Stirrup', 'strain 5'] },
    notes: [{ text: 'Stirrup faliure', x: 89, y: 120 }], arrows: [[88, 130, 88, 175]] },
  { plot: [924, 318, 1229, 565], yw: 66, x: [-150, 150], y: [-500, 4000], xTicks: stirrup6XTicks, yTicks: stirrup6YTicks,
    loops: stirrup6Loops, drift: stirrup6Drift, driftLabels: stirrup6DriftLabels, driftLabelX: [-124, -50, 50, 100], limits: [2000],
    box: { x: 201, y: 40, w: 50, h: 36, lines: ['Stirrup', 'strain 6'] },
    notes: [{ text: 'Plastic', x: 28, y: 97 }], arrows: [] },
  { plot: [77, 666, 384, 913], yw: 70, row3: true, x: [-30, 30], y: [-3000, 5000], xTicks: starterB1XTicks, yTicks: starterB1YTicks,
    loops: starterB1Loops, drift: starterB1Drift, driftLabels: starterB1DriftLabels, driftLabelX: [-20, -8, 10.5, 21.8],
    limits: [2000, -2000], limitDash: [6, 4],
    box: { x: 70, y: 33, w: 71, h: 38, lines: ['Starter bar', 'strain 1'] },
    notes: [{ text: '0.2% strain', x: 196, y: 59 }], arrows: [[199, 69, 199, 88]] },
  { plot: [497, 666, 806, 913], yw: 64, row3: true, x: [-150, 150], y: [-1000, 2000], xTicks: long2XTicks, yTicks: long2YTicks,
    loops: long2Loops, red: long2BondSlip, drift: long2Drift, driftLabels: long2DriftLabels, limits: [],
    box: { x: 186, y: 42, w: 105, h: 34, lines: ['Longitudinal bar', 'strain 2'] },
    notes: [{ text: 'Before bond-slip', x: 89, y: 63 }, { text: 'Bond-slip', x: 72, y: 115 }, { text: 'Bond-slip', x: 248, y: 233 }],
    arrows: [[113, 54, 137, 6], [72, 121, 72, 139], [245, 224, 245, 211]] },
  { plot: [928, 666, 1235, 913], yw: 68, row3: true, x: [-150, 150], y: [-1500, 2000], xTicks: long3bXTicks, yTicks: long3bYTicks,
    loops: long3bLoops, red: long3bBondSlip, drift: long3bDrift, driftLabels: long3bDriftLabels, limits: [],
    box: { x: 182, y: 43, w: 102, h: 32, lines: ['Longitudinal bar', 'strain 3'] },
    notes: [{ text: 'Before bond-slip', x: 55, y: 37 }, { text: 'Bond-slip', x: 241, y: 233 }],
    arrows: [[107, 37, 142, 38], [239, 224, 239, 209]] }
];

function strokeLine(ctx, x1, y1, x2, y2) {
  ctx.beginPath();
  ctx.moveTo(x1, y1);
  ctx.lineTo(x2, y2);
  ctx.stroke();
}

function drawArrow(ctx, x1, y1, x2, y2) {
  const ang = Math.atan2(y2 - y1, x2 - x1);
  const len = 8, half = 3;
  strokeLine(ctx, x1, y1, x2 - Math.cos(ang) * len * 0.6, y2 - Math.sin(ang) * len * 0.6);
  ctx.beginPath();
  ctx.moveTo(x2, y2);
  ctx.lineTo(x2 - Math.cos(ang) * len - Math.sin(ang) * half, y2 - Math.sin(ang) * len + Math.cos(ang) * half);
  ctx.lineTo(x2 - Math.cos(ang) * len + Math.sin(ang) * half, y2 - Math.sin(ang) * len - Math.cos(ang) * half);
  ctx.closePath();
  ctx.fill();
}

// reference lines, labels, boxes and frame drawn around the chart area
function makeDecor(p) {
  return {
    id: 'decor',
    beforeDatasetsDraw(chart) {
      const { ctx, chartArea: a, scales: { x, y } } = chart;
      ctx.save();
      // drift ratio lines
      ctx.lineWidth = 1;
      ctx.strokeStyle = '#2a2aff';
      ctx.setLineDash([2, 2]);
      p.drift.forEach((v, i) => {
        const px = Math.round(x.getPixelForValue(v)) + 0.5;
        const top = p.driftLabels[i] ? a.top + 24 : a.top;
        strokeLine(ctx, px, top, px, a.bottom);
      });
      // zero axes
      ctx.setLineDash([]);
      ctx.strokeStyle = '#000';
      const y0 = Math.round(y.getPixelForValue(0)) + 0.5;
      strokeLine(ctx, a.left, y0, a.right, y0);
      ctx.lineWidth = 1.6;
      const x0 = Math.round(x.getPixelForValue(0));
      strokeLine(ctx, x0, a.top, x0, a.bottom);
      ctx.restore();
    },
    afterDatasetsDraw(chart) {
      const { ctx, chartArea: a, scales: { x, y } } = chart;
      ctx.save();
      // yield / limit strains
      ctx.lineWidth = 2;
      ctx.strokeStyle = '#ff1010';
      ctx.setLineDash(p.limitDash || [2, 2]);
      p.limits.forEach(v => {
        const py = Math.round(y.getPixelForValue(v));
        strokeLine(ctx, a.left, py, a.right, py);
      });
      ctx.setLineDash([]);
      ctx.font = '14px ' + FONT;
      ctx.textAlign = 'center';
      ctx.textBaseline = 'middle';
      // drift labels
      ctx.fillStyle = '#2a2aff';
      const labelX = p.driftLabelX || p.drift;
      p.driftLabels.forEach((t, i) => {
        if (t) ctx.fillText(t, x.getPixelForValue(labelX[i]), a.top + 17);
      });
      // annotation box with drop shadow
      const b = p.box;
      const bx = a.left + b.x, by = a.top + b.y;
      ctx.fillStyle = '#000';
      ctx.fillRect(bx + 4, by + 4, b.w, b.h);
      ctx.fillStyle = '#fff';
      ctx.fillRect(bx, by, b.w, b.h);
      ctx.strokeStyle = '#000';
      ctx.lineWidth = 1;
      ctx.strokeRect(bx + 0.5, by + 0.5, b.w, b.h);
      ctx.fillStyle = '#000';
      ctx.fillText(b.lines[0], bx + b.w / 2, by + b.h / 2 - 8);
      ctx.fillText(b.lines[1], bx + b.w / 2, by + b.h / 2 + 8);
      // notes and arrows
      p.notes.forEach(n => ctx.fillText(n.text, a.left + n.x, a.top + n.y));
      p.arrows.forEach(([x1, y1, x2, y2]) => drawArrow(ctx, a.left + x1, a.top + y1, a.left + x2, a.top + y2));
      ctx.restore();
    },
    afterDraw(chart) {
      const { ctx, chartArea: a, scales: { x, y } } = chart;
      ctx.save();
      ctx.strokeStyle = '#111';
      ctx.lineWidth = 1.3;
      ctx.strokeRect(a.left, a.top, a.right - a.left, a.bottom - a.top);
      ctx.lineWidth = 1;
      p.xTicks.forEach(v => {
        const px = Math.round(x.getPixelForValue(v)) + 0.5;
        strokeLine(ctx, px, a.bottom, px, a.bottom + 5);
        strokeLine(ctx, px, a.top, px, a.top + 5);
      });
      p.yTicks.forEach(v => {
        const py = Math.round(y.getPixelForValue(v)) + 0.5;
        strokeLine(ctx, a.left - 5, py, a.left, py);
        strokeLine(ctx, a.right - 5, py, a.right, py);
      });
      ctx.restore();
    }
  };
}

function buildPanel(p, i) {
  const [L, T, R, B] = p.plot;
  const padTop = 10, padRight = 14;
  const xh = p.row3 ? 46 : 48;
  const w = p.yw + (R - L) + padRight;
  const h = padTop + (B - T) + xh;
  const holder = document.createElement('div');
  holder.className = 'panel';
  holder.style.left = (L - p.yw) + 'px';
  holder.style.top = (T - padTop) + 'px';
  holder.style.width = w + 'px';
  holder.style.height = h + 'px';
  const canvas = document.createElement('canvas');
  canvas.id = 'panel' + (i + 1);
  canvas.width = w;
  canvas.height = h;
  canvas.style.width = w + 'px';
  canvas.style.height = h + 'px';
  holder.appendChild(canvas);
  document.getElementById('figure').appendChild(holder);

  const datasets = p.loops.map(loop => ({
    data: loop.map(([x, y]) => ({ x, y })),
    showLine: true,
    borderColor: '#000',
    borderWidth: 0.9,
    pointRadius: 0,
    fill: false
  }));
  (p.red || []).forEach(seg => datasets.push({
    data: seg.map(([x, y]) => ({ x, y })),
    showLine: true,
    borderColor: '#ff0000',
    borderWidth: 1.8,
    pointRadius: 0,
    fill: false
  }));

  const tickFontY = p.row3 ? 11 : 12;
  const titleSizeX = p.row3 ? 15 : 16;
  const titleSizeY = p.row3 ? 14 : 16;

  new Chart(canvas, {
    type: 'scatter',
    data: { datasets },
    options: {
      responsive: false,
      animation: false,
      devicePixelRatio: 1,
      layout: { padding: { left: 0, top: padTop, right: padRight, bottom: 0 } },
      plugins: { legend: { display: false }, tooltip: { enabled: false } },
      scales: {
        x: {
          type: 'linear', min: p.x[0], max: p.x[1],
          afterBuildTicks: s => { s.ticks = p.xTicks.map(v => ({ value: v })); },
          afterFit: s => { s.height = xh; },
          grid: { display: false, drawTicks: true, tickLength: 5 },
          border: { display: false },
          ticks: { font: { size: 13 }, color: '#111', padding: 3, maxRotation: 0, autoSkip: false, callback: v => String(v) },
          title: { display: true, text: 'Lateral displacement (mm)', font: { size: titleSizeX }, color: '#111', padding: 0 }
        },
        y: {
          type: 'linear', min: p.y[0], max: p.y[1],
          afterBuildTicks: s => { s.ticks = p.yTicks.map(v => ({ value: v })); },
          afterFit: s => { s.width = p.yw; },
          grid: { display: false, drawTicks: true, tickLength: 5 },
          border: { display: false },
          ticks: { font: { size: tickFontY }, color: '#111', padding: 4, autoSkip: false, callback: v => String(v) },
          title: { display: true, text: p.row3 ? 'Strain (10⁻⁶)' : 'Strain (με )', font: { size: titleSizeY }, color: '#111', padding: 0 }
        }
      }
    },
    plugins: [makeDecor(p)]
  });
}

panels.forEach(buildPanel);
</script>
</body>
</html>
